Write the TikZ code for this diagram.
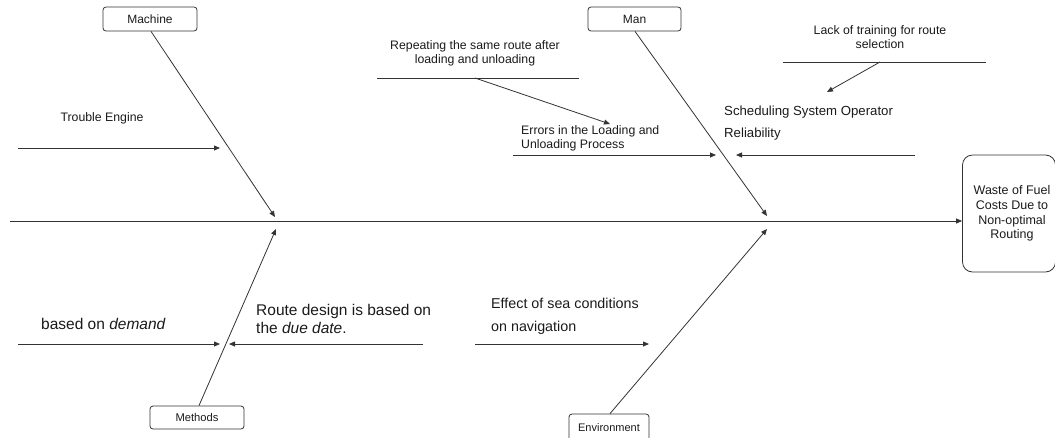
\documentclass[tikz,border=0pt]{standalone}
\usepackage{fontspec}
\setmainfont{Liberation Sans}
\usetikzlibrary{arrows.meta}
\definecolor{ink}{HTML}{1A1A1A}
\definecolor{linec}{HTML}{333333}
\tikzset{
  catbox/.style={draw=linec, line width=0.8pt, rounded corners=3pt, minimum height=24pt, inner sep=0pt, text=ink},
  effbox/.style={draw=linec, line width=0.8pt, rounded corners=10pt, minimum width=93pt, minimum height=117pt, inner sep=0pt, align=center, text=ink},
  lbl/.style={inner sep=0pt, text=ink},
  bone/.style={draw=linec, line width=0.8pt, -{Triangle[length=6pt,width=5pt]}},
  plain/.style={draw=linec, line width=0.8pt},
  small/.style={font=\fontsize{12.3}{14.5}\selectfont},
  mid/.style={font=\fontsize{13.2}{22}\selectfont},
  big/.style={font=\fontsize{15.5}{18}\selectfont},
  bigb/.style={font=\fontsize{14.3}{23}\selectfont},
}
\begin{document}
\begin{tikzpicture}[x=1pt,y=-1pt]
\useasboundingbox (0,0) rectangle (1055,437);
% category boxes
\node[catbox, minimum width=94pt, font=\fontsize{12}{14}\selectfont] (machine) at (150,19) {Machine};
\node[catbox, minimum width=93pt, font=\fontsize{12}{14}\selectfont] (man) at (634.5,19) {Man};
\node[catbox, minimum width=94pt, minimum height=23pt, font=\fontsize{11.2}{13}\selectfont] (methods) at (197,417.5) {Methods};
\node[catbox, minimum width=80pt, minimum height=28pt, text depth=-4pt, font=\fontsize{11}{13}\selectfont] (environment) at (609,428) {Environment};
\node[effbox, font=\fontsize{12.5}{14.6}\selectfont] (effect) at (1009,213.5) {\hspace*{6pt}Waste of Fuel\\\hspace*{6pt}Costs Due to\\\hspace*{6pt}Non-optimal\\\hspace*{6pt}Routing};
% spine
\coordinate (s0) at (10,221);
\draw[bone] (s0) -- (s0 -| effect.west);
% bone tips
\coordinate (tmach) at (275,217);
\coordinate (tmeth) at (276,229);
\coordinate (tman) at (767,216);
\coordinate (tenv) at (767,229);
\draw[bone] ([xshift=1pt]machine.south) -- (tmach);
\draw[bone] ([xshift=2pt]methods.north) -- (tmeth);
\draw[bone] ([xshift=0.5pt]man.south) -- (tman);
\draw[bone] ([xshift=1pt]environment.north) -- (tenv);
% Machine causes
\node[lbl, small] (trouble) at (102,118) {Trouble Engine};
\coordinate (te0) at (18,148); \coordinate (te1) at (220,148);
\draw[bone] (te0) -- (te1);
% Methods causes
\node[lbl, big, anchor=west] (demand) at (41,324) {based on \textit{demand}};
\coordinate (bd0) at (18,344); \coordinate (bd1) at (220,344);
\draw[bone] (bd0) -- (bd1);
\node[lbl, big, anchor=west, align=left] (route) at (256,319) {Route design is based on\\the \textit{due date}.};
\coordinate (rd0) at (423,344); \coordinate (rd1) at (229,344);
\draw[bone] (rd0) -- (rd1);
% Environment cause
\node[lbl, bigb, anchor=west, align=left] (sea) at (491,316.5) {Effect of sea conditions\\on navigation};
\coordinate (sc0) at (475,344); \coordinate (sc1) at (649,344);
\draw[bone] (sc0) -- (sc1);
% Man causes
\node[lbl, small, anchor=west, align=left] (errors) at (521,138.5) {Errors in the Loading and\\Unloading Process};
\coordinate (er0) at (513,155); \coordinate (er1) at (716,155);
\draw[bone] (er0) -- (er1);
\node[lbl, mid, anchor=west, align=left] (sched) at (724,123) {Scheduling System Operator\\Reliability};
\coordinate (so0) at (915,155); \coordinate (so1) at (736,155);
\draw[bone] (so0) -- (so1);
\node[lbl, small, align=center] (repeat) at (475,53.5) {Repeating the same route after\\loading and unloading};
\coordinate (rp0) at (377,78); \coordinate (rp1) at (579,78); \coordinate (rpm) at (475,78); \coordinate (rpt) at (610,124);
\draw[plain] (rp0) -- (rp1);
\draw[bone] (rpm) -- (rpt);
\node[lbl, small, align=center] (lack) at (880,37) {Lack of training for route\\selection};
\coordinate (lk0) at (783,62); \coordinate (lk1) at (986,62); \coordinate (lkm) at (880,62); \coordinate (lkt) at (827,92);
\draw[plain] (lk0) -- (lk1);
\draw[bone] (lkm) -- (lkt);
\end{tikzpicture}
\end{document}
